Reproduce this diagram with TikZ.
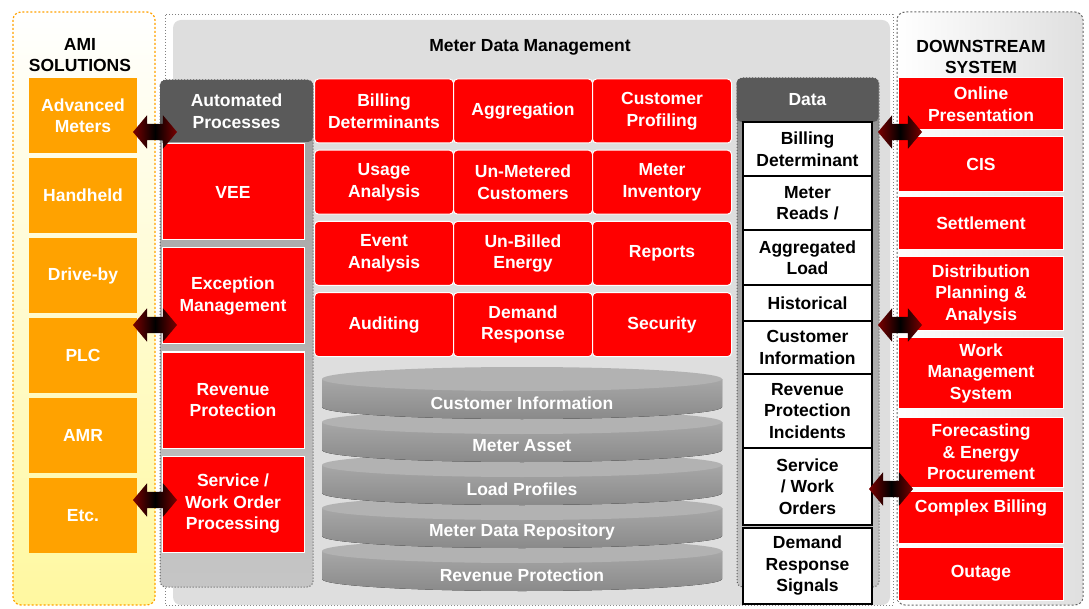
\documentclass[tikz,border=0pt]{standalone}
\usepackage{fontspec}
\setmainfont{Liberation Sans}
\usetikzlibrary{shapes.arrows}
\definecolor{AmiOrange}{HTML}{FFA200}
\definecolor{AmiYellow}{HTML}{FFF8A0}
\definecolor{BoxRed}{HTML}{FF0000}
\definecolor{HeadGray}{HTML}{5A5A5A}
\definecolor{PanelGray}{HTML}{DEDEDE}
\definecolor{DiskTop}{HTML}{B2B2B2}
\definecolor{DiskBody}{HTML}{8A8A8A}
\definecolor{ArrowRed}{HTML}{7A0000}
\newcommand{\diagfont}{\fontsize{17.5pt}{21.5pt}\selectfont\bfseries}
\tikzstyle{ami_element}=[rectangle,
                         minimum width=108pt,
                         minimum height=75pt,
                         fill=AmiOrange,
                         text=white, font=\diagfont, align=center,
                         inner sep=0pt, ]
\tikzstyle{process_element}=[rectangle,
                             minimum width=142pt,
                             minimum height=96pt,
                             fill=BoxRed, draw=white, line width=1pt,
                             text=white, font=\diagfont, align=center,
                             inner sep=0pt, ]
\tikzstyle{function_element}=[rectangle,
                              minimum width=139pt,
                              minimum height=64pt,
                              fill=BoxRed, draw=white, line width=1pt,
                              rounded corners=4,
                              text=white, font=\diagfont, align=center,
                              inner sep=0pt, ]
\tikzstyle{data_element}=[rectangle,
                          minimum width=129pt,
                          fill=white, draw=black, line width=1.2pt,
                          text=black, font=\diagfont, align=center,
                          inner sep=0pt, ]
\tikzstyle{system_element}=[rectangle,
                            minimum width=165pt,
                            fill=BoxRed, draw=white, line width=1pt,
                            text=white, font=\diagfont, align=center,
                            inner sep=0pt, ]
\tikzstyle{column_head}=[rectangle,
                         fill=HeadGray,
                         rounded corners=5,
                         text=white, font=\diagfont, align=center, ]
\tikzstyle{title_text}=[text=black, font=\diagfont, align=center]
\tikzstyle{disk_text}=[text=white, font=\diagfont]
\tikzstyle{link_arrow}=[double arrow,
                        double arrow head extend=8.5pt,
                        double arrow head indent=0pt,
                        double arrow tip angle=100,
                        minimum height=44pt,
                        inner xsep=0pt, inner ysep=8pt,
                        left color=ArrowRed, right color=ArrowRed, middle color=black, ]

\begin{document}
\begin{tikzpicture}[x=1pt, y=-1pt]
    \useasboundingbox (0,0) rectangle (1089,609);

    % frames
    \draw[AmiOrange, dash pattern=on 2pt off 2pt, line width=1.2pt, rounded corners=8,
          top color=white, bottom color=AmiYellow] (13,12) rectangle (155,605);
    \draw[gray, dotted, line width=1pt] (165,15) rectangle (893,605);
    \fill[PanelGray, rounded corners=8] (173,20) rectangle (890,605);
    \draw[gray!80!black, dash pattern=on 2pt off 2pt, line width=1pt, rounded corners=8,
          left color=white, right color=gray!25] (897,12) rectangle (1083,605);

    \node at (80, 55) (ami_title) [title_text] {AMI\\SOLUTIONS};
    \node at (530, 47) (mdm_title) [title_text] {Meter Data Management};
    \node at (981, 57) (down_title) [title_text] {DOWNSTREAM\\SYSTEM};

    \foreach \i/\txt in {0/{Advanced\\Meters}, 1/Handheld, 2/Drive-by, 3/PLC, 4/AMR, 5/Etc.} {
      \node at (83, 115.5 + 80*\i) (ami_\i) [ami_element] {\txt};
    }

    % automated processes
    \draw[gray!70!black, dotted, line width=1pt, rounded corners=6,
          top color=gray!75, bottom color=gray!45] (160,80) rectangle (313,587);
    \node at (236.5, 111) (auto_head) [column_head, minimum width=153pt, minimum height=62pt] {Automated\\Processes};
    \foreach \i/\txt in {0/VEE, 1/{Exception\\Management}, 2/{Revenue\\Protection}, 3/{Service /\\Work Order\\Processing}} {
      \node at (233, 192 + 104*\i) (process_\i) [process_element] {\txt};
    }

    % functions
    \foreach \i/\j/\txt in {0/0/{Billing\\Determinants}, 1/0/Aggregation, 2/0/{Customer\\Profiling},
                            0/1/{Usage\\Analysis}, 1/1/{Un-Metered\\Customers}, 2/1/{Meter\\Inventory},
                            0/2/{Event\\Analysis}, 1/2/{Un-Billed\\Energy}, 2/2/Reports,
                            0/3/Auditing, 1/3/{Demand\\Response}, 2/3/Security} {
      \node at (384 + 139*\i, 111 + 71.2*\j) (func_\i_\j) [function_element] {\txt};
    }

    % data stores
    \foreach \i/\txt in {4/Revenue Protection, 3/Meter Data Repository, 2/Load Profiles,
                         1/Meter Asset, 0/Customer Information} {
      \fill[top color=DiskBody!75!white, bottom color=DiskBody]
          (322, 379 + 43*\i) -- (322, 407 + 43*\i)
          arc[start angle=180, end angle=0, x radius=200, y radius=12]
          -- (722, 379 + 43*\i) -- cycle;
      \fill[DiskTop] (522, 379 + 43*\i) ellipse [x radius=200, y radius=12];
      \node at (522, 403 + 43*\i) (disk_\i) [disk_text] {\txt};
    }

    % data column
    \draw[gray!70!black, dotted, line width=1pt, rounded corners=6,
          top color=gray!90, bottom color=gray!45] (737,78) rectangle (879,587);
    \node at (807.5, 100) (data_head) [column_head, minimum width=142pt, minimum height=44pt] {Data};
    \foreach \i/\y/\h/\txt in {0/149/54/{Billing\\Determinant}, 1/203/54/{Meter\\Reads /},
                               2/257.5/55/{Aggregated\\Load}, 3/303/36/Historical,
                               4/347.5/53/{Customer\\Information}, 5/411/74/{Revenue\\Protection\\Incidents},
                               6/486.5/77/{Service\\/ Work\\Orders}, 7/566/76/{Demand\\Response\\Signals}} {
      \node at (807.5, \y) (data_\i) [data_element, minimum height=\h pt] {\txt};
    }

    % downstream systems
    \foreach \i/\y/\h/\txt in {0/104/52/{Online\\Presentation}, 1/164.5/55/CIS, 2/223.5/53/Settlement,
                               3/294/74/{Distribution\\Planning \&\\Analysis}, 4/373/70/{Work\\Management\\System},
                               5/452/70/{Forecasting\\\& Energy\\Procurement}, 6/517/52/{Complex Billing\\\mbox{}},
                               7/573.5/53/Outage} {
      \node at (981, \y) (system_\i) [system_element, minimum height=\h pt] {\txt};
    }

    % links
    \node at (155, 132) (link_ami_0) [link_arrow] {};
    \node at (155, 325) (link_ami_1) [link_arrow] {};
    \node at (155, 500) (link_ami_2) [link_arrow] {};
    \node at (900, 132) (link_down_0) [link_arrow] {};
    \node at (900, 325) (link_down_1) [link_arrow] {};
    \node at (891, 489) (link_down_2) [link_arrow] {};
\end{tikzpicture}
\end{document}
